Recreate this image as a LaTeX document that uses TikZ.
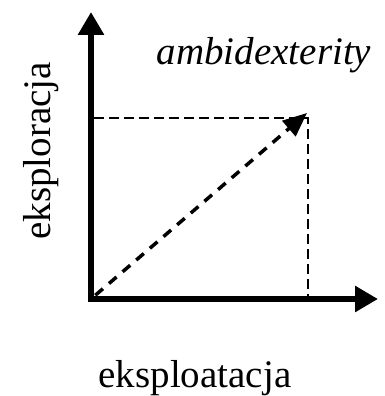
\documentclass[tikz,border=0pt]{standalone}
\usepackage{fontspec}
\setmainfont{Liberation Serif}
\usetikzlibrary{arrows.meta, positioning, calc}

\begin{document}
\begin{tikzpicture}[
    x=1pt, y=1pt,
    axis/.style={line width=6.5pt, line join=miter,
                 {Triangle[length=23pt, width=25pt]}-{Triangle[length=23pt, width=25pt]}},
    guide/.style={line width=2pt, dash pattern=on 10pt off 5pt},
    mix/.style={line width=3.5pt, dash pattern=on 10pt off 8pt,
                -{Triangle[length=24pt, width=20pt]}},
    lbl/.style={font=\fontsize{39}{44}\selectfont, inner sep=0pt, anchor=base},
]
    \useasboundingbox (0,0) rectangle (385,396);

    % Points
    \coordinate (O) at (91,97);
    \coordinate (ytip) at (91,384);
    \coordinate (xtip) at (378,97);
    \coordinate (P) at (308,278);
    \coordinate (Py) at (94,278);
    \coordinate (Px) at (308,100);
    \coordinate (Ptip) at (307,283);

    % Guides to the corner
    \draw[guide] (Py) -- (P) -- (Px);

    % Diagonal
    \draw[mix] ($(O)!0.02!(Ptip)$) -- (Ptip);

    % Axes
    \draw[axis] (ytip) -- (O) -- (xtip);

    % Labels
    \node[lbl] (expl) at (195,9) {eksploatacja};
    \node[lbl, rotate=90] (explr) at (50,245) {eksploracja};
    \node[lbl, font=\fontsize{39}{44}\selectfont\itshape] (amb) at (264,331) {ambidexterity};
\end{tikzpicture}
\end{document}
